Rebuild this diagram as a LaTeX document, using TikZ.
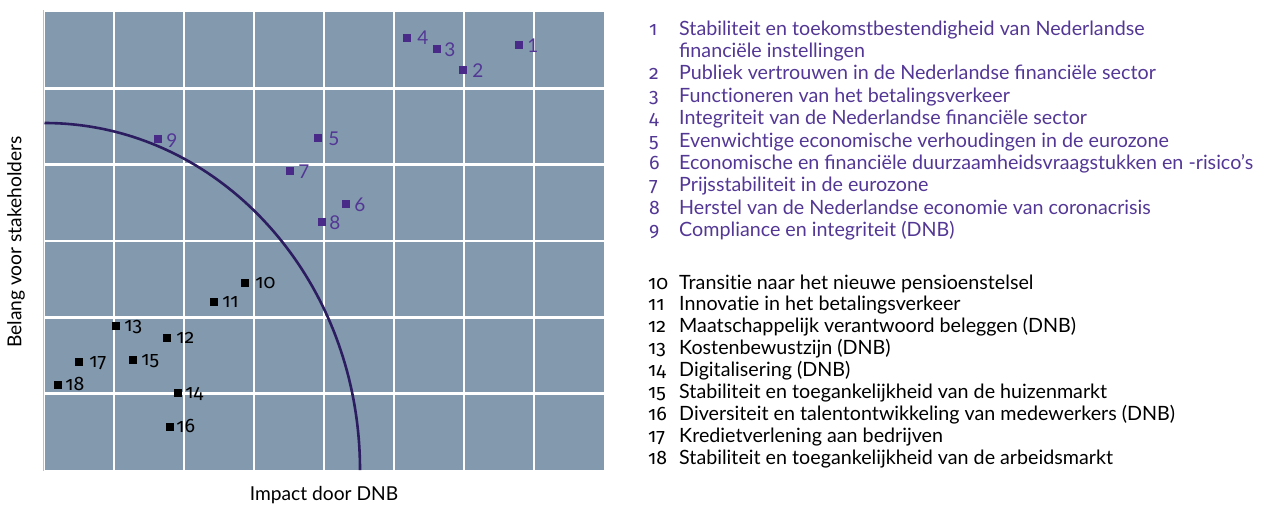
\documentclass[tikz,border=0pt]{standalone}
\usepackage{fontspec}
\setmainfont{Lato}
\newfontfamily\oldnum{Fira Sans}[Numbers=OldStyle]
\newcommand{\tinolig}{t\kern0pt i}
\definecolor{cellc}{HTML}{8399AE}
\definecolor{dotp}{HTML}{4A2A88}
\definecolor{txtp}{HTML}{533795}
\definecolor{curvec}{HTML}{2B1D60}
\definecolor{axisc}{HTML}{B8C2CC}
\begin{document}
\begin{tikzpicture}[x=1pt,y=-1pt,
  psq/.style={rectangle, minimum size=8pt, inner sep=0pt, fill=dotp},
  bsq/.style={rectangle, minimum size=8pt, inner sep=0pt, fill=black},
  plab/.style={inner sep=0pt, anchor=base west, text=txtp, font=\fontsize{19}{22}\selectfont},
  blab/.style={inner sep=0pt, anchor=base west, text=black, font=\fontsize{19.5}{22}\selectfont\oldnum},
  lnum/.style={inner sep=0pt, anchor=base west, font=\fontsize{19.5}{22.2}\selectfont\oldnum},
  ltxt/.style={inner sep=0pt, anchor=base west, font=\fontsize{19.7}{22.2}\selectfont},
  axlab/.style={inner sep=0pt, font=\fontsize{19.2}{22}\selectfont}
]
\useasboundingbox (0,0) rectangle (1271,504);
% grid
\fill[cellc] (44.5,12) rectangle (604,470);
\foreach \i in {1,...,7} \draw[white, line width=2.4pt] ({44+70*\i},12) -- ({44+70*\i},470);
\foreach \j in {1,...,5} \draw[white, line width=2.4pt] (44.5,{12+76.33*\j}) -- (604,{12+76.33*\j});
\draw[axisc, line width=1pt] (43,10) -- (43,471);
% curve
\draw[curvec, line width=2.6pt] (44.5,123) arc[start angle=-90, end angle=0, x radius=315.5, y radius=347];
% purple points
\node[psq] (p1) at (519,45) {};
\node[psq] (p2) at (463,70) {};
\node[psq] (p3) at (437,49) {};
\node[psq] (p4) at (407,38) {};
\node[psq] (p5) at (318,138) {};
\node[psq] (p6) at (346,204) {};
\node[psq] (p7) at (290,171) {};
\node[psq] (p8) at (322,222) {};
\node[psq] (p9) at (158,139) {};
\node[plab] (l1) at ([xshift=4pt,yshift=-7pt]p1.east) {1};
\node[plab] (l2) at ([xshift=5pt,yshift=-7pt]p2.east) {2};
\node[plab] (l3) at ([xshift=3pt,yshift=-7pt]p3.east) {3};
\node[plab] (l4) at ([xshift=6pt,yshift=-6pt]p4.east) {4};
\node[plab] (l5) at ([xshift=6pt,yshift=-7pt]p5.east) {5};
\node[plab] (l6) at ([xshift=4pt,yshift=-7pt]p6.east) {6};
\node[plab] (l7) at ([xshift=4pt,yshift=-7pt]p7.east) {7};
\node[plab] (l8) at ([xshift=3pt,yshift=-7pt]p8.east) {8};
\node[plab] (l9) at ([xshift=4pt,yshift=-8pt]p9.east) {9};
% black points
\node[bsq] (p10) at (245,283) {};
\node[bsq] (p11) at (214,302) {};
\node[bsq] (p12) at (167,338) {};
\node[bsq] (p13) at (116,326) {};
\node[bsq] (p14) at (178,393) {};
\node[bsq] (p15) at (133,360) {};
\node[bsq] (p16) at (170,427) {};
\node[bsq] (p17) at (79,362) {};
\node[bsq] (p18) at (58,385) {};
\node[blab] (l10) at ([xshift=6pt,yshift=-5pt]p10.east) {10};
\node[blab] (l11) at ([xshift=4pt,yshift=-5pt]p11.east) {11};
\node[blab] (l12) at ([xshift=5pt,yshift=-5pt]p12.east) {12};
\node[blab] (l13) at ([xshift=4pt,yshift=-5pt]p13.east) {13};
\node[blab] (l14) at ([xshift=3pt,yshift=-5pt]p14.east) {14};
\node[blab] (l15) at ([xshift=4pt,yshift=-5pt]p15.east) {15};
\node[blab] (l16) at ([xshift=2pt,yshift=-5pt]p16.east) {16};
\node[blab] (l17) at ([xshift=6pt,yshift=-5pt]p17.east) {17};
\node[blab] (l18) at ([xshift=3pt,yshift=-5pt]p18.east) {18};
% axis labels
\node[axlab, rotate=90] (ylab) at (16,242) {Belang voor stakeholders};
\node[axlab] (xlab) at (324,495) {Impact door DNB};
% legend group 1
\begin{scope}[every node/.append style={text=txtp}]
\node[lnum] (n1) at (649,35) {1};
\node[ltxt] (t1) at (679,35) {Stabiliteit en toekomstbestendigheid van Nederlandse};
\node[ltxt] (t1b) at (679,57.4) {financiële instellingen};
\node[lnum] (n2) at (649,79.8) {2};
\node[ltxt] (t2) at (679,79.8) {Publiek vertrouwen in de Nederlandse financiële sector};
\node[lnum] (n3) at (649,102.2) {3};
\node[ltxt] (t3) at (679,102.2) {Func\tinolig oneren van het betalingsverkeer};
\node[lnum] (n4) at (649,124.6) {4};
\node[ltxt] (t4) at (679,124.6) {Integriteit van de Nederlandse financiële sector};
\node[lnum] (n5) at (649,147) {5};
\node[ltxt] (t5) at (679,147) {Evenwich\tinolig ge economische verhoudingen in de eurozone};
\node[lnum] (n6) at (649,169.4) {6};
\node[ltxt] (t6) at (679,169.4) {Economische en financiële duurzaamheidsvraagstukken en -risico's};
\node[lnum] (n7) at (649,191.8) {7};
\node[ltxt] (t7) at (679,191.8) {Prijsstabiliteit in de eurozone};
\node[lnum] (n8) at (649,214.2) {8};
\node[ltxt] (t8) at (679,214.2) {Herstel van de Nederlandse economie van coronacrisis};
\node[lnum] (n9) at (649,236.6) {9};
\node[ltxt] (t9) at (679,236.6) {Compliance en integriteit (DNB)};
\end{scope}
% legend group 2
\node[lnum] (n10) at (648,289) {10};
\node[ltxt] (t10) at (679,289) {Transi\tinolig e naar het nieuwe pensioenstelsel};
\node[lnum] (n11) at (648,310.9) {11};
\node[ltxt] (t11) at (679,310.9) {Innova\tinolig e in het betalingsverkeer};
\node[lnum] (n12) at (648,332.8) {12};
\node[ltxt] (t12) at (679,332.8) {Maatschappelijk verantwoord beleggen (DNB)};
\node[lnum] (n13) at (648,354.7) {13};
\node[ltxt] (t13) at (679,354.7) {Kostenbewustzijn (DNB)};
\node[lnum] (n14) at (648,376.6) {14};
\node[ltxt] (t14) at (679,376.6) {Digitalisering (DNB)};
\node[lnum] (n15) at (648,398.5) {15};
\node[ltxt] (t15) at (679,398.5) {Stabiliteit en toegankelijkheid van de huizenmarkt};
\node[lnum] (n16) at (648,420.4) {16};
\node[ltxt] (t16) at (679,420.4) {Diversiteit en talentontwikkeling van medewerkers (DNB)};
\node[lnum] (n17) at (648,442.3) {17};
\node[ltxt] (t17) at (679,442.3) {Kredietverlening aan bedrijven};
\node[lnum] (n18) at (648,464.2) {18};
\node[ltxt] (t18) at (679,464.2) {Stabiliteit en toegankelijkheid van de arbeidsmarkt};
\end{tikzpicture}
\end{document}
